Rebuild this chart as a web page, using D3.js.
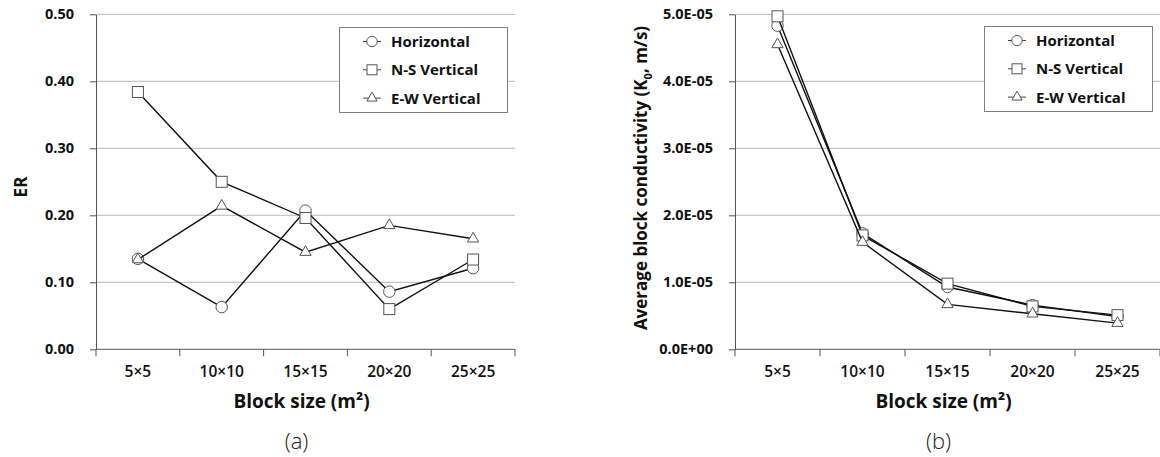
<!DOCTYPE html>
<html>
<head>
<meta charset="utf-8">
<script src="https://cdn.jsdelivr.net/npm/d3@7"></script>
<style>
  body { margin: 0; background: #fff; }
  svg { display: block; font-family: "Open Sans", sans-serif; }
</style>
</head>
<body>
<div id="chart"></div>
<script>
// data
const categories = ["5×5", "10×10", "15×15", "20×20", "25×25"];
const seriesNames = ["Horizontal", "N-S Vertical", "E-W Vertical"];
const markerShapes = ["circle", "square", "triangle"];

// panel (a): ER
const erHorizontal = [0.135, 0.063, 0.207, 0.086, 0.121];
const erNS = [0.384, 0.250, 0.196, 0.060, 0.134];
const erEW = [0.134, 0.214, 0.145, 0.185, 0.165];
const erTicks = [0, 0.1, 0.2, 0.3, 0.4, 0.5];

// panel (b): average block conductivity
const kHorizontal = [4.83e-5, 1.73e-5, 9.3e-6, 6.6e-6, 4.9e-6];
const kNS = [4.97e-5, 1.70e-5, 9.8e-6, 6.4e-6, 5.1e-6];
const kEW = [4.55e-5, 1.60e-5, 6.7e-6, 5.3e-6, 3.9e-6];
const kTicks = [0, 1e-5, 2e-5, 3e-5, 4e-5, 5e-5];

const W = 1160, H = 457;
const svg = d3.select("#chart").append("svg")
    .attr("width", W)
    .attr("height", H);

function expFmt(v) {
  // Excel-like 5.0E-05
  let s = v.toExponential(1).split("e");
  let e = +s[1];
  let sign = e < 0 ? "-" : "+";
  return s[0] + "E" + sign + String(Math.abs(e)).padStart(2, "0");
}

function marker(sel, shape, size) {
  if (shape === "circle") {
    sel.append("circle").attr("r", size * 0.52);
  } else if (shape === "square") {
    sel.append("rect")
      .attr("x", -size / 2).attr("y", -size / 2)
      .attr("width", size).attr("height", size);
  } else {
    sel.append("path").attr("d", d3.symbol(d3.symbolTriangle, size * size * 0.45)());
  }
}

function drawPanel(opt) {
  const g = svg.append("g");
  const x = d3.scaleBand().domain(categories).range([opt.x0, opt.x1]);
  const y = d3.scaleLinear().domain([0, opt.ymax]).range([349.3, 14.3]);

  // gridlines
  g.append("g").selectAll("line")
    .data(opt.ticks.slice(1))
    .join("line")
      .attr("x1", opt.x0).attr("x2", opt.x1)
      .attr("y1", d => y(d)).attr("y2", d => y(d))
      .attr("stroke", "#b8b8b8")
      .attr("stroke-width", 1);

  // y axis
  const yAxis = g.append("g")
      .attr("transform", `translate(${opt.x0},0)`)
      .call(d3.axisLeft(y).tickValues(opt.ticks).tickFormat(opt.fmt).tickSizeInner(6).tickSizeOuter(0).tickPadding(16));
  yAxis.select(".domain").attr("stroke", "#555");
  yAxis.selectAll(".tick line").attr("stroke", "#555");
  yAxis.selectAll("text")
      .attr("font-size", 14.5)
      .attr("font-weight", 700)
      .attr("fill", "#111")
      .attr("font-family", "Open Sans, sans-serif");

  // x axis: Excel puts the tick marks between the categories
  const xAxis = g.append("g")
      .attr("transform", `translate(0,${y(0)})`)
      .call(d3.axisBottom(x).tickSize(0).tickPadding(17));
  xAxis.select(".domain").remove();
  xAxis.selectAll("text")
      .attr("font-size", 15.5)
      .attr("font-weight", 600)
      .attr("fill", "#111")
      .attr("font-family", "Open Sans, sans-serif");
  g.append("line")
      .attr("x1", opt.x0).attr("x2", opt.x1)
      .attr("y1", y(0)).attr("y2", y(0))
      .attr("stroke", "#555");
  g.append("g").selectAll("line")
    .data(categories.map(c => x(c)).concat([opt.x1]))
    .join("line")
      .attr("x1", d => d).attr("x2", d => d)
      .attr("y1", y(0)).attr("y2", y(0) + 7)
      .attr("stroke", "#555");

  // series: line then markers, one series after the other
  opt.series.forEach((vals, i) => {
    const line = d3.line()
      .x((d, j) => x(categories[j]) + x.bandwidth() / 2)
      .y(d => y(d));
    g.append("path")
      .datum(vals)
      .attr("d", line)
      .attr("fill", "none")
      .attr("stroke", "#111")
      .attr("stroke-width", 1.4);
    const m = g.append("g").selectAll("g")
      .data(vals)
      .join("g")
        .attr("transform", (d, j) => `translate(${x(categories[j]) + x.bandwidth() / 2},${y(d)})`)
        .attr("fill", "#fff")
        .attr("stroke", "#555")
        .attr("stroke-width", 1);
    m.each(function() { marker(d3.select(this), markerShapes[i], 11); });
  });

  // legend
  const lg = g.append("g");
  lg.append("rect")
    .attr("x", opt.legX).attr("y", opt.legY)
    .attr("width", 168).attr("height", 85)
    .attr("fill", "#fff")
    .attr("stroke", "#808080")
    .attr("stroke-width", 1);
  seriesNames.forEach((name, i) => {
    const cy = opt.legY + 14 + i * 28.3;
    const mx = opt.legX + 32.5;
    lg.append("line")
      .attr("x1", mx - 9).attr("x2", mx + 9)
      .attr("y1", cy).attr("y2", cy)
      .attr("stroke", "#444");
    const mg = lg.append("g")
      .attr("transform", `translate(${mx},${cy})`)
      .attr("fill", "#fff")
      .attr("stroke", "#555");
    marker(mg, markerShapes[i], 10);
    lg.append("text")
      .attr("x", mx + 19).attr("y", cy)
      .attr("dy", "0.36em")
      .attr("font-size", 15)
      .attr("font-weight", 700)
      .attr("fill", "#111")
      .text(name);
  });

  // axis titles
  g.append("text")
    .attr("x", (opt.x0 + opt.x1) / 2 - 4).attr("y", 408)
    .attr("text-anchor", "middle")
    .attr("font-size", 19)
    .attr("font-weight", 700)
    .attr("fill", "#111")
    .text("Block size (m²)");

  const yt = g.append("text")
    .attr("transform", `translate(${opt.ytX},${opt.ytY}) rotate(-90)`)
    .attr("text-anchor", "middle")
    .attr("dy", "0.35em")
    .attr("font-size", 17)
    .attr("font-weight", 700)
    .attr("fill", "#111");
  opt.ytitle(yt);

  g.append("text")
    .attr("x", (opt.x0 + opt.x1) / 2 - 9).attr("y", 449)
    .attr("text-anchor", "middle")
    .attr("font-size", 22)
    .attr("font-weight", 300)
    .attr("fill", "#222")
    .text(opt.label);
}

drawPanel({
  x0: 96, x1: 515, ymax: 0.5,
  ticks: erTicks, fmt: d3.format(".2f"),
  series: [erHorizontal, erNS, erEW],
  legX: 339.5, legY: 27.5,
  ytX: 21, ytY: 187,
  ytitle: t => t.text("ER"),
  label: "(a)"
});

drawPanel({
  x0: 735, x1: 1160, ymax: 5e-5,
  ticks: kTicks, fmt: expFmt,
  series: [kHorizontal, kNS, kEW],
  legX: 984.5, legY: 26.5,
  ytX: 641, ytY: 178,
  ytitle: t => {
    t.append("tspan").text("Average block conductivity (K");
    t.append("tspan").attr("font-size", 11).attr("dy", "0.45em").text("0");
    t.append("tspan").attr("dy", "-0.3em").text(", m/s)");
  },
  label: "(b)"
});
</script>
</body>
</html>
